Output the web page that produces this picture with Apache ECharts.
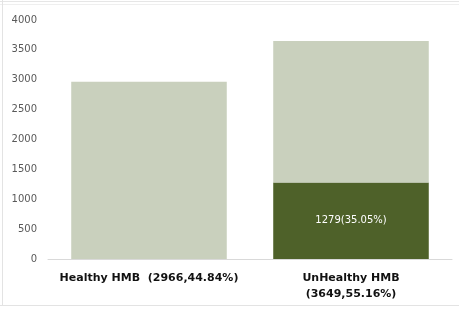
<!DOCTYPE html>
<html>
<head>
<meta charset="utf-8">
<script src="https://cdn.jsdelivr.net/npm/echarts@6/dist/echarts.min.js"></script>
<style>
  html, body { margin: 0; padding: 0; background: #fff; }
  #chart { width: 459px; height: 309px; }
</style>
</head>
<body>
<div id="chart"></div>
<script>
  // 类别与数值
  const categories = ['Healthy HMB  (2966,44.84%)', 'UnHealthy HMB\n(3649,55.16%)']
  const darkValues = [null, 1279]
  const lightValues = [2966, 2370]
  const darkLabels = ['', '1279(35.05%)']
  const yTicks = [0, 500, 1000, 1500, 2000, 2500, 3000, 3500, 4000]

  const chart = echarts.init(document.getElementById('chart'))
  chart.setOption({
    animation: false,
    graphic: [
      /** 外框线 */
      { type: 'line', shape: { x1: 0, y1: 1.5, x2: 459, y2: 1.5 }, style: { stroke: '#e6e6e6', lineWidth: 1 } },
      { type: 'line', shape: { x1: 0, y1: 4.5, x2: 459, y2: 4.5 }, style: { stroke: '#efefef', lineWidth: 1 } },
      { type: 'line', shape: { x1: 2.5, y1: 0, x2: 2.5, y2: 306 }, style: { stroke: '#e3e3e3', lineWidth: 1 } },
      { type: 'line', shape: { x1: 0, y1: 305.5, x2: 459, y2: 305.5 }, style: { stroke: '#e3e3e3', lineWidth: 1 } }
    ],
    grid: { left: 48, right: 7, top: 20, bottom: 50 },
    xAxis: {
      type: 'category',
      data: categories,
      axisLine: { lineStyle: { color: '#d9d9d9' } },
      axisTick: { show: false },
      axisLabel: {
        color: '#111',
        fontFamily: 'DejaVu Sans',
        fontWeight: 'bold',
        fontSize: 11,
        lineHeight: 16,
        margin: 11,
        interval: 0
      }
    },
    yAxis: {
      type: 'value',
      min: yTicks[0],
      max: yTicks[yTicks.length - 1],
      interval: 500,
      splitLine: { show: false },
      axisLine: { show: false },
      axisTick: { show: false },
      axisLabel: {
        color: '#595959',
        fontFamily: 'DejaVu Sans',
        fontSize: 10,
        margin: 11,
        formatter: v => String(v)
      }
    },
    series: [
      {
        type: 'bar',
        stack: 'total',
        barWidth: '77%',
        data: darkValues,
        itemStyle: { color: '#4e6129' },
        label: {
          show: true,
          position: 'inside',
          color: '#fff',
          fontFamily: 'DejaVu Sans',
          fontSize: 10,
          formatter: p => darkLabels[p.dataIndex]
        }
      },
      {
        type: 'bar',
        stack: 'total',
        barWidth: '77%',
        data: lightValues,
        itemStyle: { color: '#c9d0bd' }
      }
    ]
  })
</script>
</body>
</html>
